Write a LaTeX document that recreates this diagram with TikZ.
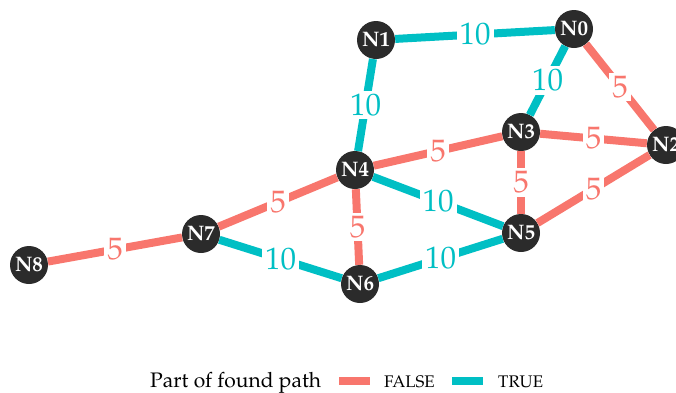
\documentclass[tikz,border=0pt]{standalone}
\usepackage[T1]{fontenc}
\usepackage{mathpazo}
\usepackage{xcolor}
\usepackage{tikz}

\definecolor{falsered}{HTML}{F8766D}
\definecolor{truecyan}{HTML}{00BFC4}
\definecolor{nodegrey}{HTML}{2B2B2B}

\begin{document}
\begin{tikzpicture}[x=1pt, y=-1pt,
		vertex/.style = {circle, fill=nodegrey, minimum size=38pt, inner sep=0pt,
			text=white, font=\fontsize{21}{21}\selectfont\bfseries},
		onpath/.style = {truecyan, line width=8pt},
		offpath/.style = {falsered, line width=8pt},
		weight/.style = {fill=white, inner sep=3pt, font=\fontsize{31}{31}\selectfont}
	]
		\useasboundingbox (0,0) rectangle (676,392);
	
		% graph nodes
		\node [vertex] (n0) at (574,29) {N0};
		\node [vertex] (n1) at (376,40) {N1};
		\node [vertex] (n2) at (666,145) {N2};
		\node [vertex] (n3) at (521,132) {N3};
		\node [vertex] (n4) at (355,170) {N4};
		\node [vertex] (n5) at (521,233) {N5};
		\node [vertex] (n6) at (360,284) {N6};
		\node [vertex] (n7) at (201,234) {N7};
		\node [vertex] (n8) at (29,265) {N8};
	
		% edges on the found path
		\begin{scope}[onpath]
			\draw (n1) -- node [weight] {10} (n0);
			\draw (n1) -- node [weight] {10} (n4);
			\draw (n0) -- node [weight] {10} (n3);
			\draw (n4) -- node [weight] {10} (n5);
			\draw (n6) -- node [weight] {10} (n5);
			\draw (n7) -- node [weight] {10} (n6);
		\end{scope}
	
		% other edges
		\begin{scope}[offpath]
			\draw (n0) -- node [weight] {5} (n2);
			\draw (n3) -- node [weight] {5} (n2);
			\draw (n4) -- node [weight] {5} (n3);
			\draw (n3) -- node [weight] {5} (n5);
			\draw (n5) -- node [weight] {5} (n2);
			\draw (n4) -- node [weight] {5} (n6);
			\draw (n7) -- node [weight] {5} (n4);
			\draw (n8) -- node [weight] {5} (n7);
		\end{scope}
	
		% legend
		\node [anchor=base west, inner sep=0pt, font=\fontsize{21}{21}\selectfont] (legtitle) at (150,387) {Part of found path};
		\draw [offpath] (339,381) -- (370,381);
		\node [anchor=base west, inner sep=0pt, font=\fontsize{16.8}{16.8}\selectfont] (legfalse) at (384,387) {FALSE};
		\draw [onpath] (452,381) -- (483,381);
		\node [anchor=base west, inner sep=0pt, font=\fontsize{16.8}{16.8}\selectfont] (legtrue) at (498,387) {TRUE};
	\end{tikzpicture}
\end{document}
